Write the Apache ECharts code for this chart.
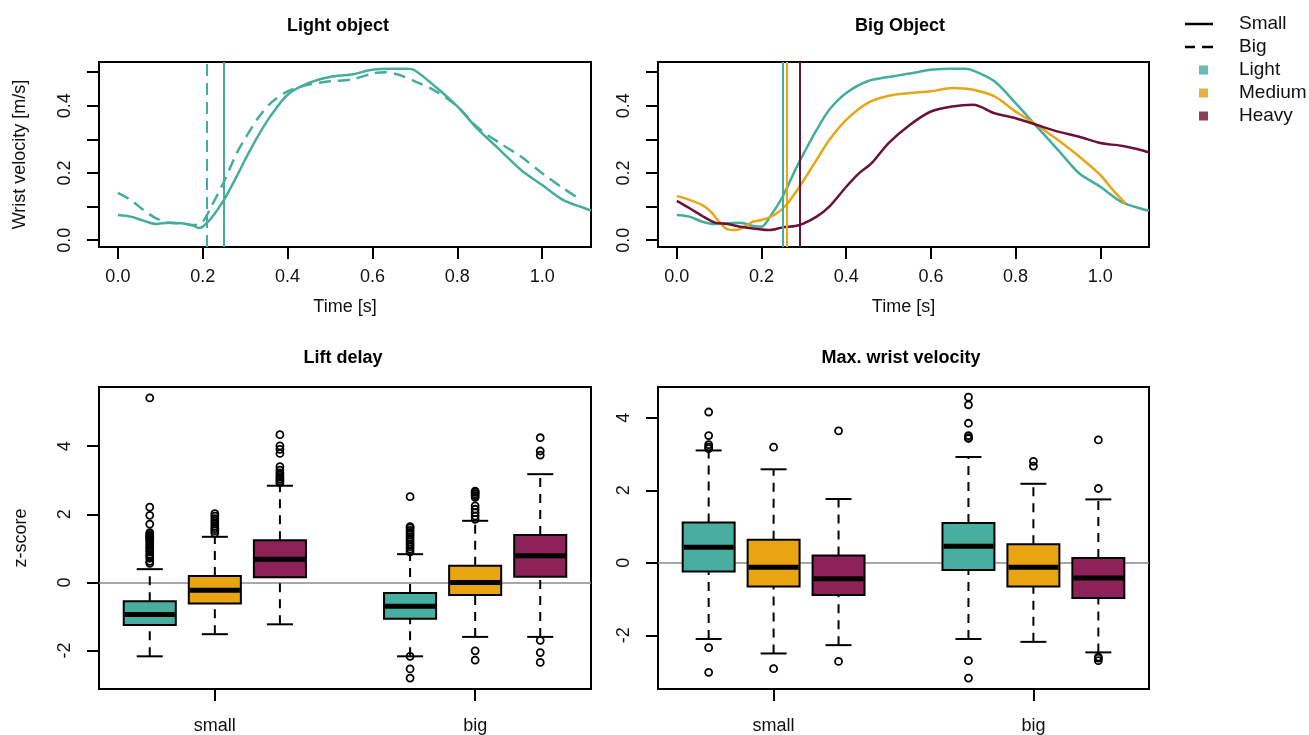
<!DOCTYPE html>
<html>
<head>
<meta charset="utf-8">
<script src="https://cdn.jsdelivr.net/npm/echarts@6/dist/echarts.min.js"></script>
<style>html,body{margin:0;padding:0;background:#fff}#c{width:1309px;height:735px}</style>
</head>
<body>
<div id="c"></div>
<script>
// ---------------- data ----------------
const timeTicks = [0, 0.2, 0.4, 0.6, 0.8, 1.0];
const velTicks = [0, 0.1, 0.2, 0.3, 0.4, 0.5];
const velLabels = [0, 0.2, 0.4];
const zTicks = [-2, 0, 2, 4];
const groups = ['small', 'big'];
const weights = ['Light', 'Medium', 'Heavy'];

// Light object: small (solid) & big (dashed)
const tLightSmall = [0,0.03,0.06,0.09,0.12,0.15,0.18,0.19,0.2,0.22,0.25,0.28,0.3,0.33,0.36,0.4,0.45,0.5,0.55,0.6,0.65,0.68,0.7,0.75,0.8,0.85,0.9,0.95,1.0,1.05,1.1,1.115];
const vLightSmall = [0.075,0.070,0.058,0.048,0.052,0.050,0.042,0.036,0.040,0.065,0.120,0.190,0.240,0.310,0.370,0.433,0.468,0.486,0.493,0.507,0.510,0.510,0.505,0.455,0.398,0.328,0.269,0.209,0.164,0.119,0.095,0.088];
const tLightBig = [0,0.03,0.06,0.09,0.12,0.15,0.18,0.2,0.22,0.25,0.28,0.3,0.33,0.36,0.4,0.45,0.5,0.55,0.6,0.63,0.66,0.7,0.75,0.8,0.85,0.9,0.95,1.0,1.05,1.09];
const vLightBig = [0.141,0.120,0.090,0.065,0.052,0.050,0.045,0.055,0.100,0.174,0.259,0.303,0.363,0.408,0.443,0.463,0.473,0.478,0.496,0.500,0.493,0.473,0.443,0.398,0.333,0.289,0.249,0.199,0.154,0.121];
const onsetLight = {small: 0.249, big: 0.209};

// Big object: light / medium / heavy
const tBigLight = [0,0.03,0.06,0.09,0.12,0.15,0.18,0.2,0.22,0.25,0.28,0.3,0.33,0.36,0.4,0.45,0.5,0.55,0.6,0.65,0.68,0.7,0.75,0.8,0.85,0.9,0.95,1.0,1.05,1.1,1.115];
const vBigLight = [0.075,0.070,0.055,0.048,0.050,0.052,0.042,0.040,0.070,0.130,0.210,0.259,0.328,0.388,0.438,0.473,0.486,0.496,0.507,0.510,0.510,0.505,0.473,0.408,0.338,0.269,0.199,0.159,0.114,0.092,0.088];
const tBigMedium = [0,0.03,0.06,0.08,0.1,0.12,0.14,0.16,0.18,0.2,0.23,0.26,0.3,0.33,0.36,0.4,0.45,0.5,0.55,0.6,0.65,0.7,0.75,0.8,0.85,0.9,0.95,1.0,1.03,1.06];
const vBigMedium = [0.131,0.120,0.104,0.085,0.055,0.032,0.030,0.040,0.055,0.060,0.075,0.107,0.179,0.239,0.298,0.358,0.408,0.430,0.438,0.443,0.453,0.448,0.428,0.383,0.343,0.298,0.249,0.194,0.149,0.109];
const tBigHeavy = [0,0.03,0.06,0.09,0.12,0.15,0.18,0.22,0.25,0.28,0.3,0.33,0.36,0.4,0.43,0.46,0.5,0.55,0.6,0.65,0.7,0.75,0.8,0.85,0.9,0.95,1.0,1.05,1.1,1.115];
const vBigHeavy = [0.117,0.095,0.072,0.052,0.048,0.040,0.035,0.030,0.038,0.042,0.050,0.070,0.100,0.159,0.199,0.229,0.289,0.343,0.383,0.398,0.403,0.378,0.363,0.343,0.323,0.308,0.289,0.281,0.267,0.261];
const onsetBig = [0.247, 0.263, 0.292];

// Box stats [lowWhisker, q1, median, q3, highWhisker] per group (small, big) and weight
const liftSmall = [[-2.17,-1.25,-0.94,-0.55,0.39],[-1.52,-0.62,-0.23,0.19,1.34],[-1.23,0.15,0.68,1.24,2.84]];
const liftBig   = [[-2.17,-1.07,-0.70,-0.31,0.83],[-1.60,-0.37,0.00,0.49,1.81],[-1.60,0.17,0.78,1.39,3.18]];
const liftOutSmall = [
  [0.56,0.62,0.71,0.78,0.83,0.90,0.95,1.00,1.05,1.12,1.19,1.25,1.29,1.33,1.36,1.41,1.46,1.71,1.97,2.21,5.42],
  [1.45,1.52,1.58,1.65,1.72,1.80,1.87,1.95,2.02],
  [2.92,2.97,3.03,3.09,3.15,3.22,3.30,3.40,3.79,3.91,4.01,4.34]
];
const liftOutBig = [
  [0.90,0.98,1.05,1.12,1.19,1.26,1.33,1.40,1.47,1.53,1.60,1.64,2.52,-2.17,-2.54,-2.81],
  [1.85,1.95,2.05,2.15,2.25,2.50,2.55,2.60,2.65,2.68,-2.01,-2.28],
  [4.25,3.86,3.74,-1.70,-2.06,-2.35]
];
const velSmall = [[-2.10,-0.24,0.43,1.11,3.10],[-2.50,-0.65,-0.12,0.64,2.58],[-2.27,-0.89,-0.44,0.20,1.76]];
const velBig   = [[-2.10,-0.20,0.46,1.10,2.92],[-2.18,-0.65,-0.12,0.51,2.18],[-2.47,-0.97,-0.42,0.13,1.75]];
const velOutSmall = [[4.16,3.51,3.26,3.20,3.15,-2.34,-3.02],[3.19,-2.92],[3.64,-2.72]];
const velOutBig = [[4.57,4.36,3.85,3.51,3.45,3.43,-2.70,-3.18],[2.80,2.67],[3.39,2.05,-2.60,-2.63,-2.70]];

// ---------------- style ----------------
const FONT = "'Liberation Sans', Arial, sans-serif";
const lineCol = ['#45ad9c', '#e6a615', '#6b1238'];
const boxCol = ['#48ae9f', '#e9a411', '#8c2257'];
const legendCol = ['#3fae9e', '#e0a010', '#6e0d30'];
const BOX_W = 0.8;
const FS = 18;

const pair = (t, v) => t.map((x, i) => [x, v[i]]);

const grids = [
  {left: 99, top: 62, width: 492, height: 185},
  {left: 658, top: 62, width: 491, height: 185},
  {left: 99, top: 387, width: 492, height: 304},
  {left: 658, top: 387, width: 491, height: 304}
].map(g => Object.assign(g, {show: true, borderColor: '#000', borderWidth: 2, backgroundColor: 'transparent'}));

const tickStyle = {show: true, inside: false, length: 12, lineStyle: {color: '#000', width: 2}};
const lblStyle = {color: '#111', fontSize: FS, fontFamily: FONT};
const nameStyle = {color: '#111', fontSize: FS, fontFamily: FONT};
const noLine = {show: false, onZero: false};

function timeAxis(gi) {
  return {
    type: 'value', gridIndex: gi, min: -0.0445, max: 1.115,
    axisLine: noLine, splitLine: {show: false},
    axisTick: Object.assign({customValues: timeTicks}, tickStyle),
    axisLabel: Object.assign({customValues: timeTicks, margin: 21, formatter: v => v.toFixed(1)}, lblStyle),
    name: 'Time [s]', nameLocation: 'middle', nameGap: 51, nameTextStyle: nameStyle
  };
}
function velAxis(gi, withName) {
  const a = {
    type: 'value', gridIndex: gi, min: -0.0204, max: 0.5304,
    axisLine: noLine, splitLine: {show: false},
    axisTick: Object.assign({customValues: velTicks}, tickStyle),
    axisLabel: Object.assign({customValues: velLabels, rotate: 90, margin: 25, formatter: v => v.toFixed(1)}, lblStyle)
  };
  if (withName) Object.assign(a, {name: 'Wrist velocity [m/s]', nameLocation: 'middle', nameGap: 70, nameTextStyle: nameStyle});
  return a;
}
function catAxis(gi) {
  const pos = groups.map((g, i) => i * 4 + 2);
  return {
    type: 'value', gridIndex: gi, min: 0.22, max: 7.78,
    axisLine: noLine, splitLine: {show: false},
    axisTick: Object.assign({customValues: pos}, tickStyle),
    axisLabel: Object.assign({customValues: pos, margin: 28, formatter: v => groups[(v - 2) / 4]}, lblStyle)
  };
}
function zAxis(gi, min, max, withName) {
  const a = {
    type: 'value', gridIndex: gi, min: min, max: max,
    axisLine: noLine, splitLine: {show: false},
    axisTick: Object.assign({customValues: zTicks}, tickStyle),
    axisLabel: Object.assign({customValues: zTicks, rotate: 90, margin: 25, formatter: v => String(v)}, lblStyle)
  };
  if (withName) Object.assign(a, {name: 'z-score', nameLocation: 'middle', nameGap: 69, nameTextStyle: nameStyle});
  return a;
}

function boxRenderer(color) {
  return function (params, api) {
    const x = api.value(0);
    const p = [1, 2, 3, 4, 5].map(i => api.coord([x, api.value(i)]));
    const half = api.size([BOX_W, 0])[0] / 2;
    const cap = half * 0.5;
    const cx = p[0][0];
    const blk = {stroke: '#000', lineWidth: 2};
    const dash = {stroke: '#000', lineWidth: 2, lineDash: [9, 7]};
    return {
      type: 'group',
      children: [
        {type: 'line', shape: {x1: cx, y1: p[0][1], x2: cx, y2: p[1][1]}, style: dash},
        {type: 'line', shape: {x1: cx, y1: p[3][1], x2: cx, y2: p[4][1]}, style: dash},
        {type: 'line', shape: {x1: cx - cap, y1: p[0][1], x2: cx + cap, y2: p[0][1]}, style: blk},
        {type: 'line', shape: {x1: cx - cap, y1: p[4][1], x2: cx + cap, y2: p[4][1]}, style: blk},
        {type: 'rect', shape: {x: cx - half, y: p[3][1], width: 2 * half, height: p[1][1] - p[3][1]},
          style: {fill: color, stroke: '#000', lineWidth: 2}},
        {type: 'line', shape: {x1: cx - half + 1, y1: p[2][1], x2: cx + half - 1, y2: p[2][1]},
          style: {stroke: '#000', lineWidth: 5}}
      ]
    };
  };
}

function boxSeries(gi, statsSmall, statsBig, outSmall, outBig) {
  const out = [];
  weights.forEach((w, k) => {
    const data = [statsSmall[k], statsBig[k]].map((s, g) => [g * 4 + k + 1].concat(s));
    const s = {
      type: 'custom', name: 'box' + gi + w, xAxisIndex: gi, yAxisIndex: gi, z: 10,
      renderItem: boxRenderer(boxCol[k]),
      encode: {x: 0, y: [1, 2, 3, 4, 5]},
      data: data, silent: true
    };
    if (k === 0) s.markLine = {silent: true, symbol: 'none', z: 3, label: {show: false},
      lineStyle: {color: '#8a8a8a', width: 1.5, type: 'solid'}, data: [{yAxis: 0}]};
    out.push(s);
  });
  const pts = [];
  weights.forEach((w, k) => {
    outSmall[k].forEach(v => pts.push([k + 1, v]));
    outBig[k].forEach(v => pts.push([4 + k + 1, v]));
  });
  out.push({
    type: 'scatter', name: 'out' + gi, xAxisIndex: gi, yAxisIndex: gi, z: 11, silent: true,
    symbol: 'circle', symbolSize: 7,
    itemStyle: {color: 'rgba(0,0,0,0)', borderColor: '#000', borderWidth: 1.8, opacity: 1},
    data: pts
  });
  return out;
}

function vline(x, color, type) {
  return {silent: true, symbol: 'none', label: {show: false}, z: 4,
    lineStyle: {color: color, width: 2, type: type}, data: [{xAxis: x}]};
}

const DASH = [12, 7];
const series = [
  {type: 'line', name: 'ls', xAxisIndex: 0, yAxisIndex: 0, data: pair(tLightSmall, vLightSmall),
    smooth: 0.3, symbol: 'none', lineStyle: {color: lineCol[0], width: 2.5}, markLine: vline(onsetLight.small, lineCol[0], 'solid')},
  {type: 'line', name: 'lb', xAxisIndex: 0, yAxisIndex: 0, data: pair(tLightBig, vLightBig),
    smooth: 0.3, symbol: 'none', lineStyle: {color: lineCol[0], width: 2.5, type: DASH}, markLine: vline(onsetLight.big, lineCol[0], DASH)},
  {type: 'line', name: 'bl', xAxisIndex: 1, yAxisIndex: 1, data: pair(tBigLight, vBigLight),
    smooth: 0.3, symbol: 'none', lineStyle: {color: lineCol[0], width: 2.5}, markLine: vline(onsetBig[0], lineCol[0], 'solid')},
  {type: 'line', name: 'bm', xAxisIndex: 1, yAxisIndex: 1, data: pair(tBigMedium, vBigMedium),
    smooth: 0.3, symbol: 'none', lineStyle: {color: lineCol[1], width: 2.5}, markLine: vline(onsetBig[1], lineCol[1], 'solid')},
  {type: 'line', name: 'bh', xAxisIndex: 1, yAxisIndex: 1, data: pair(tBigHeavy, vBigHeavy),
    smooth: 0.3, symbol: 'none', lineStyle: {color: lineCol[2], width: 2.5}, markLine: vline(onsetBig[2], lineCol[2], 'solid')},
  // legend entries
  {type: 'line', name: 'Small', xAxisIndex: 0, yAxisIndex: 0, data: [], symbol: 'none', itemStyle: {color: '#000'}},
  {type: 'line', name: 'Big', xAxisIndex: 0, yAxisIndex: 0, data: [], symbol: 'none', itemStyle: {color: '#000'}},
  {type: 'scatter', name: 'Light', xAxisIndex: 0, yAxisIndex: 0, data: [], itemStyle: {color: legendCol[0]}},
  {type: 'scatter', name: 'Medium', xAxisIndex: 0, yAxisIndex: 0, data: [], itemStyle: {color: legendCol[1]}},
  {type: 'scatter', name: 'Heavy', xAxisIndex: 0, yAxisIndex: 0, data: [], itemStyle: {color: legendCol[2]}}
].concat(
  boxSeries(2, liftSmall, liftBig, liftOutSmall, liftOutBig),
  boxSeries(3, velSmall, velBig, velOutSmall, velOutBig)
);

const titleStyle = {fontSize: FS, fontWeight: 'bold', color: '#000', fontFamily: FONT};
const legendText = {fontSize: 19, lineHeight: 20, color: '#111', fontFamily: FONT};
const option = {
  animation: false,
  backgroundColor: '#fff',
  textStyle: {fontFamily: FONT},
  title: [
    {text: 'Light object', left: 333, top: 12, textAlign: 'center', textStyle: titleStyle},
    {text: 'Big Object', left: 895, top: 12, textAlign: 'center', textStyle: titleStyle},
    {text: 'Lift delay', left: 338, top: 344, textAlign: 'center', textStyle: titleStyle},
    {text: 'Max. wrist velocity', left: 896, top: 344, textAlign: 'center', textStyle: titleStyle}
  ],
  legend: [
    {orient: 'vertical', left: 1180, top: 9, itemWidth: 28, itemHeight: 14, itemGap: 3,
      data: [
        {name: 'Small', icon: 'path://M0,0h28v2.5h-28z'},
        {name: 'Big', icon: 'path://M0,0h10v2.5h-10zM17,0h11v2.5h-11z'}
      ], selectedMode: false,
      textStyle: Object.assign({padding: [0, 0, 0, 21]}, legendText)},
    {orient: 'vertical', left: 1194, top: 55, itemWidth: 9, itemHeight: 9, itemGap: 3, icon: 'rect',
      data: ['Light', 'Medium', 'Heavy'], selectedMode: false,
      textStyle: Object.assign({padding: [0, 0, 0, 26]}, legendText)}
  ],
  grid: grids,
  xAxis: [timeAxis(0), timeAxis(1), catAxis(2), catAxis(3)],
  yAxis: [velAxis(0, true), velAxis(1, false), zAxis(2, -3.13, 5.74, true), zAxis(3, -3.48, 4.85, false)],
  series: series
};

const chart = echarts.init(document.getElementById('c'), null, {renderer: 'canvas'});
chart.setOption(option);
</script>
</body>
</html>
